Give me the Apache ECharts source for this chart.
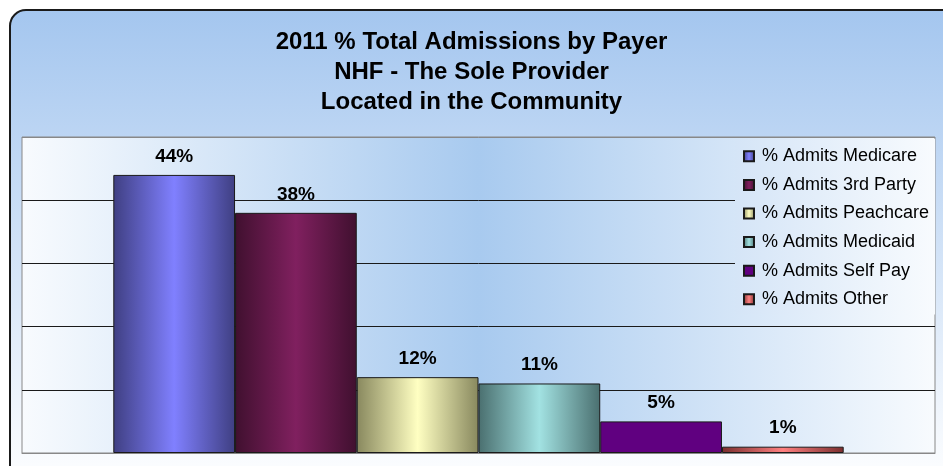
<!DOCTYPE html>
<html>
<head>
<meta charset="utf-8">
<script src="https://cdn.jsdelivr.net/npm/echarts@6/dist/echarts.min.js"></script>
<style>
  html, body { margin: 0; padding: 0; background: #ffffff; }
  #chart { width: 943px; height: 466px; }
</style>
</head>
<body>
<div id="chart"></div>
<script>
// Admissions share by payer, 2011
const titleLines = [
  '2011 % Total Admissions by Payer',
  'NHF - The Sole Provider',
  'Located in the Community'
];
const payers = [
  '% Admits Medicare',
  '% Admits 3rd Party',
  '% Admits Peachcare',
  '% Admits Medicaid',
  '% Admits Self Pay',
  '% Admits Other'
];
const shares = [44, 38, 12, 11, 5, 1];
const category = [''];

// edge / centre shades for each payer's bar
const barShades = [
  ['#3f3f82', '#8080ff'],
  ['#40102f', '#80205f'],
  ['#88885e', '#ffffc2'],
  ['#4a6f6f', '#a2e2e2'],
  ['#600080', '#600080'],
  ['#7a2e2e', '#ff8080']
];

const FONT = "Arial, 'Liberation Sans', sans-serif";
const G = echarts.graphic.LinearGradient;

function barFill(i) {
  const [edge, mid] = barShades[i];
  return new G(0, 0, 1, 0, [
    { offset: 0, color: edge },
    { offset: 0.5, color: mid },
    { offset: 1, color: edge }
  ]);
}

const series = payers.map((name, i) => ({
  name: name,
  type: 'bar',
  data: [shares[i]],
  barGap: '0%',
  barCategoryGap: '20%',
  itemStyle: {
    color: barFill(i),
    borderColor: '#1a1a1a',
    borderWidth: 1
  },
  label: {
    show: true,
    position: 'top',
    distance: 9,
    formatter: '{c}%',
    fontFamily: FONT,
    fontSize: 19,
    fontWeight: 'bold',
    color: '#000'
  }
}));

const chart = echarts.init(document.getElementById('chart'), null, { renderer: 'canvas' });
chart.setOption({
  animation: false,
  backgroundColor: '#ffffff',
  graphic: [{
    type: 'rect',
    z: -10,
    silent: true,
    shape: { x: 10, y: 10, width: 960, height: 480, r: 16 },
    style: {
      fill: new G(0, 0, 0, 1, [
        { offset: 0, color: '#a4c6ef' },
        { offset: 1, color: '#ffffff' }
      ], false),
      stroke: '#1a1a1a',
      lineWidth: 2
    }
  }],
  title: {
    text: titleLines.join('\n'),
    left: 'center',
    top: 22,
    textStyle: {
      fontFamily: FONT,
      fontSize: 24,
      fontWeight: 'bold',
      color: '#000',
      lineHeight: 30
    }
  },
  legend: {
    orient: 'vertical',
    left: 735,
    top: 139,
    padding: [8, 6, 6, 8],
    itemWidth: 10,
    itemHeight: 10,
    itemGap: 10,
    icon: 'rect',
    backgroundColor: new G(0, 0, 1, 0, [
      { offset: 0, color: '#d5e5f7' },
      { offset: 1, color: '#f8fbfe' }
    ]),
    textStyle: {
      fontFamily: FONT,
      fontSize: 18,
      color: '#000',
      lineHeight: 18.6,
      padding: [0, 0, 0, 3]
    },
    data: payers
  },
  grid: {
    left: 22,
    right: 8,
    top: 137,
    bottom: 13,
    show: true,
    borderColor: '#888888',
    borderWidth: 1,
    backgroundColor: new G(0, 0, 1, 0, [
      { offset: 0, color: '#f8fbfe' },
      { offset: 0.5, color: '#a8caef' },
      { offset: 1, color: '#f8fbfe' }
    ])
  },
  xAxis: {
    type: 'category',
    data: category,
    axisLine: { show: true, lineStyle: { color: '#888888' } },
    axisTick: { show: false },
    axisLabel: { show: false }
  },
  yAxis: {
    type: 'value',
    min: 0,
    max: 50,
    interval: 10,
    axisLine: { show: false },
    axisTick: { show: false },
    axisLabel: { show: false },
    splitLine: {
      show: true,
      lineStyle: {
        color: ['#888888', '#1a1a1a', '#1a1a1a', '#1a1a1a', '#1a1a1a', '#888888'],
        width: 1
      }
    }
  },
  series: series
});
</script>
</body>
</html>
